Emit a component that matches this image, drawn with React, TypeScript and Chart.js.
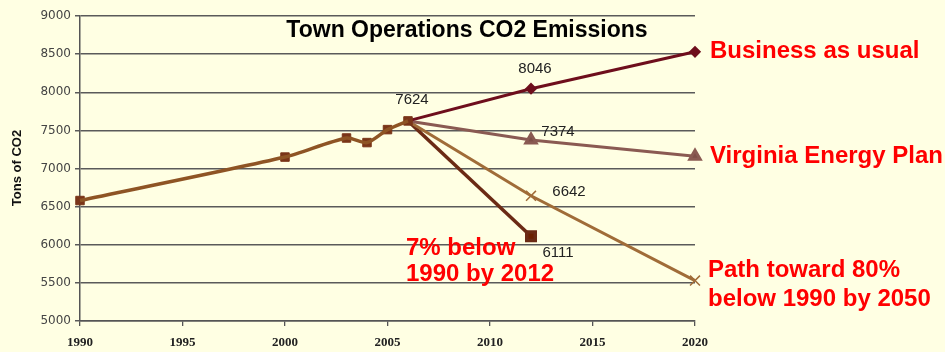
import React, { useEffect, useRef } from "react";
import { Chart, registerables } from "chart.js";

Chart.register(...registerables);

const historyYears = [1990, 2000, 2003, 2004, 2005, 2006];
const historyValues = [6580, 7150, 7400, 7340, 7510, 7624];
const projYears = [2006, 2012, 2020];
const businessValues = [7624, 8046, 8530];
const virginiaValues = [7624, 7374, 7160];
const pathValues = [7624, 6642, 5530];
const sevenYears = [2006, 2012];
const sevenValues = [7624, 6111];
const xTicks = [1990, 1995, 2000, 2005, 2010, 2015, 2020];
const yTicks = [5000, 5500, 6000, 6500, 7000, 7500, 8000, 8500, 9000];

const chartTitle = "Town Operations CO2 Emissions";
const yTitle = "Tons of CO2";

const toPts = (xs: number[], ys: number[]) => xs.map((x, i) => ({ x, y: ys[i] }));

const BG = "#FFFFE3";
const RED = "#FF0000";

const textPlugin = {
  id: "textPlugin",
  beforeDraw(chart: any) {
    const { ctx } = chart;
    ctx.save();
    ctx.fillStyle = BG;
    ctx.fillRect(0, 0, chart.width, chart.height);
    ctx.restore();
  },
  afterDatasetsDraw(chart: any) {
    const { ctx } = chart;
    const xs = chart.scales.x;
    const ys = chart.scales.y;
    const px = (v: number) => xs.getPixelForValue(v);
    const py = (v: number) => ys.getPixelForValue(v);
    ctx.save();
    // title
    ctx.fillStyle = "#000";
    ctx.font = "bold 23px 'Liberation Sans', Arial, sans-serif";
    ctx.textAlign = "center";
    ctx.textBaseline = "middle";
    ctx.fillText(chartTitle, 467, 31);

    // y axis title
    ctx.save();
    ctx.translate(17, 168);
    ctx.rotate(-Math.PI / 2);
    ctx.font = "bold 13px 'Liberation Sans', Arial, sans-serif";
    ctx.fillStyle = "#111";
    ctx.fillText(yTitle, 0, 0);
    ctx.restore();

    // data labels
    ctx.font = "15px 'Liberation Sans', Arial, sans-serif";
    ctx.fillStyle = "#222";
    ctx.textAlign = "center";
    const lab = (year: number, val: number, dx: number, dy: number) => {
      ctx.fillText(String(val), px(year) + dx, py(val) + dy);
    };
    lab(projYears[0], businessValues[0], 4, -21);
    lab(projYears[1], businessValues[1], 4, -20);
    lab(projYears[1], virginiaValues[1], 27, -8);
    lab(projYears[1], pathValues[1], 38, -4);
    lab(sevenYears[1], sevenValues[1], 27, 17);

    // red annotations
    ctx.fillStyle = RED;
    ctx.font = "bold 24px 'Liberation Sans', Arial, sans-serif";
    ctx.textAlign = "left";
    const x2020 = px(2020);
    ctx.fillText("Business as usual", x2020 + 15, py(businessValues[2]));
    ctx.fillText("Virginia Energy Plan", x2020 + 15, py(virginiaValues[2]));
    ctx.fillText("Path toward 80%", x2020 + 13, py(pathValues[2]) - 10);
    ctx.fillText("below 1990 by 2050", x2020 + 13, py(pathValues[2]) + 19);
    const x12 = px(2012);
    ctx.fillText("7% below", x12 - 125, py(sevenValues[1]) + 12);
    ctx.fillText("1990 by 2012", x12 - 125, py(sevenValues[1]) + 38);
    ctx.restore();
  },
};

export default function App() {
  const ref = useRef<HTMLCanvasElement | null>(null);
  useEffect(() => {
    if (!ref.current) return;
    const chart = new Chart(ref.current, {
      type: "line",
      data: {
        datasets: [
          {
            label: "History line",
            data: toPts(historyYears, historyValues),
            borderColor: "#8E5424",
            borderWidth: 3.5,
            pointRadius: 0,
            tension: 0.25,
            clip: false,
            order: 1,
          },
          {
            label: "History",
            data: toPts(historyYears, historyValues),
            showLine: false,
            pointStyle: "rect",
            pointRadius: 6,
            backgroundColor: "#7A3518",
            borderColor: "#7A3518",
            clip: false,
            order: 2,
          },
          {
            label: "Business as usual",
            data: toPts(projYears, businessValues),
            borderColor: "#6E0E1C",
            backgroundColor: "#6E0E1C",
            borderWidth: 3,
            pointStyle: "rectRot",
            pointRadius: [0, 4, 4],
            clip: false,
            order: 3,
          },
          {
            label: "Virginia Energy Plan",
            data: toPts(projYears, virginiaValues),
            borderColor: "#8A5A52",
            backgroundColor: "#7E4E48",
            borderWidth: 3,
            pointStyle: "triangle",
            pointRadius: [0, 6, 6],
            clip: false,
            order: 4,
          },
          {
            label: "Path toward 80%",
            data: toPts(projYears, pathValues),
            borderColor: "#A06C38",
            backgroundColor: "#A06C38",
            borderWidth: 3,
            pointStyle: "crossRot",
            pointRadius: [0, 7, 7],
            pointBorderWidth: 1.5,
            clip: false,
            order: 5,
          },
          {
            label: "7% below 1990 by 2012",
            data: toPts(sevenYears, sevenValues),
            borderColor: "#6B2A14",
            backgroundColor: "#6B2000",
            borderWidth: 3.5,
            pointStyle: "rect",
            pointRadius: [0, 6],
            clip: false,
            order: 6,
          },
        ],
      },
      options: {
        responsive: false,
        animation: false,
        devicePixelRatio: 1,
        layout: { padding: { top: 16, right: 250, bottom: 0, left: 0 } },
        plugins: {
          legend: { display: false },
          tooltip: { enabled: false },
          title: { display: false },
        },
        scales: {
          x: {
            type: "linear",
            min: 1990,
            max: 2020,
            afterFit: (s: any) => {
              s.height = 31;
            },
            afterBuildTicks: (s: any) => {
              s.ticks = xTicks.map((v) => ({ value: v }));
            },
            ticks: {
              padding: 9,
              color: "#222",
              font: { family: "'Liberation Serif', 'Times New Roman', serif", size: 13, weight: "bold" },
              callback: (v: any) => String(v),
              maxRotation: 0,
            },
            grid: {
              drawOnChartArea: false,
              drawTicks: true,
              tickLength: 5,
              color: "#555",
              lineWidth: 1.3,
            },
            border: { color: "#555", width: 1.5 },
          },
          y: {
            type: "linear",
            min: 5000,
            max: 9000,
            afterFit: (s: any) => {
              s.width = 80;
            },
            afterBuildTicks: (s: any) => {
              s.ticks = yTicks.map((v) => ({ value: v }));
            },
            ticks: {
              padding: 4,
              color: "#444",
              font: { family: "'DejaVu Sans', sans-serif", size: 12 },
              callback: (v: any) => String(v),
            },
            grid: {
              color: "#5a5a5a",
              lineWidth: 1.5,
              tickLength: 5,
            },
            border: { color: "#555", width: 1.5 },
          },
        },
      },
      plugins: [textPlugin],
    } as any);
    return () => chart.destroy();
  }, []);
  return (
    <div style={{ position: "absolute", left: 0, top: 0, width: 945, height: 352, background: BG }}>
      <canvas ref={ref} width={945} height={352} style={{ display: "block" }} />
    </div>
  );
}
